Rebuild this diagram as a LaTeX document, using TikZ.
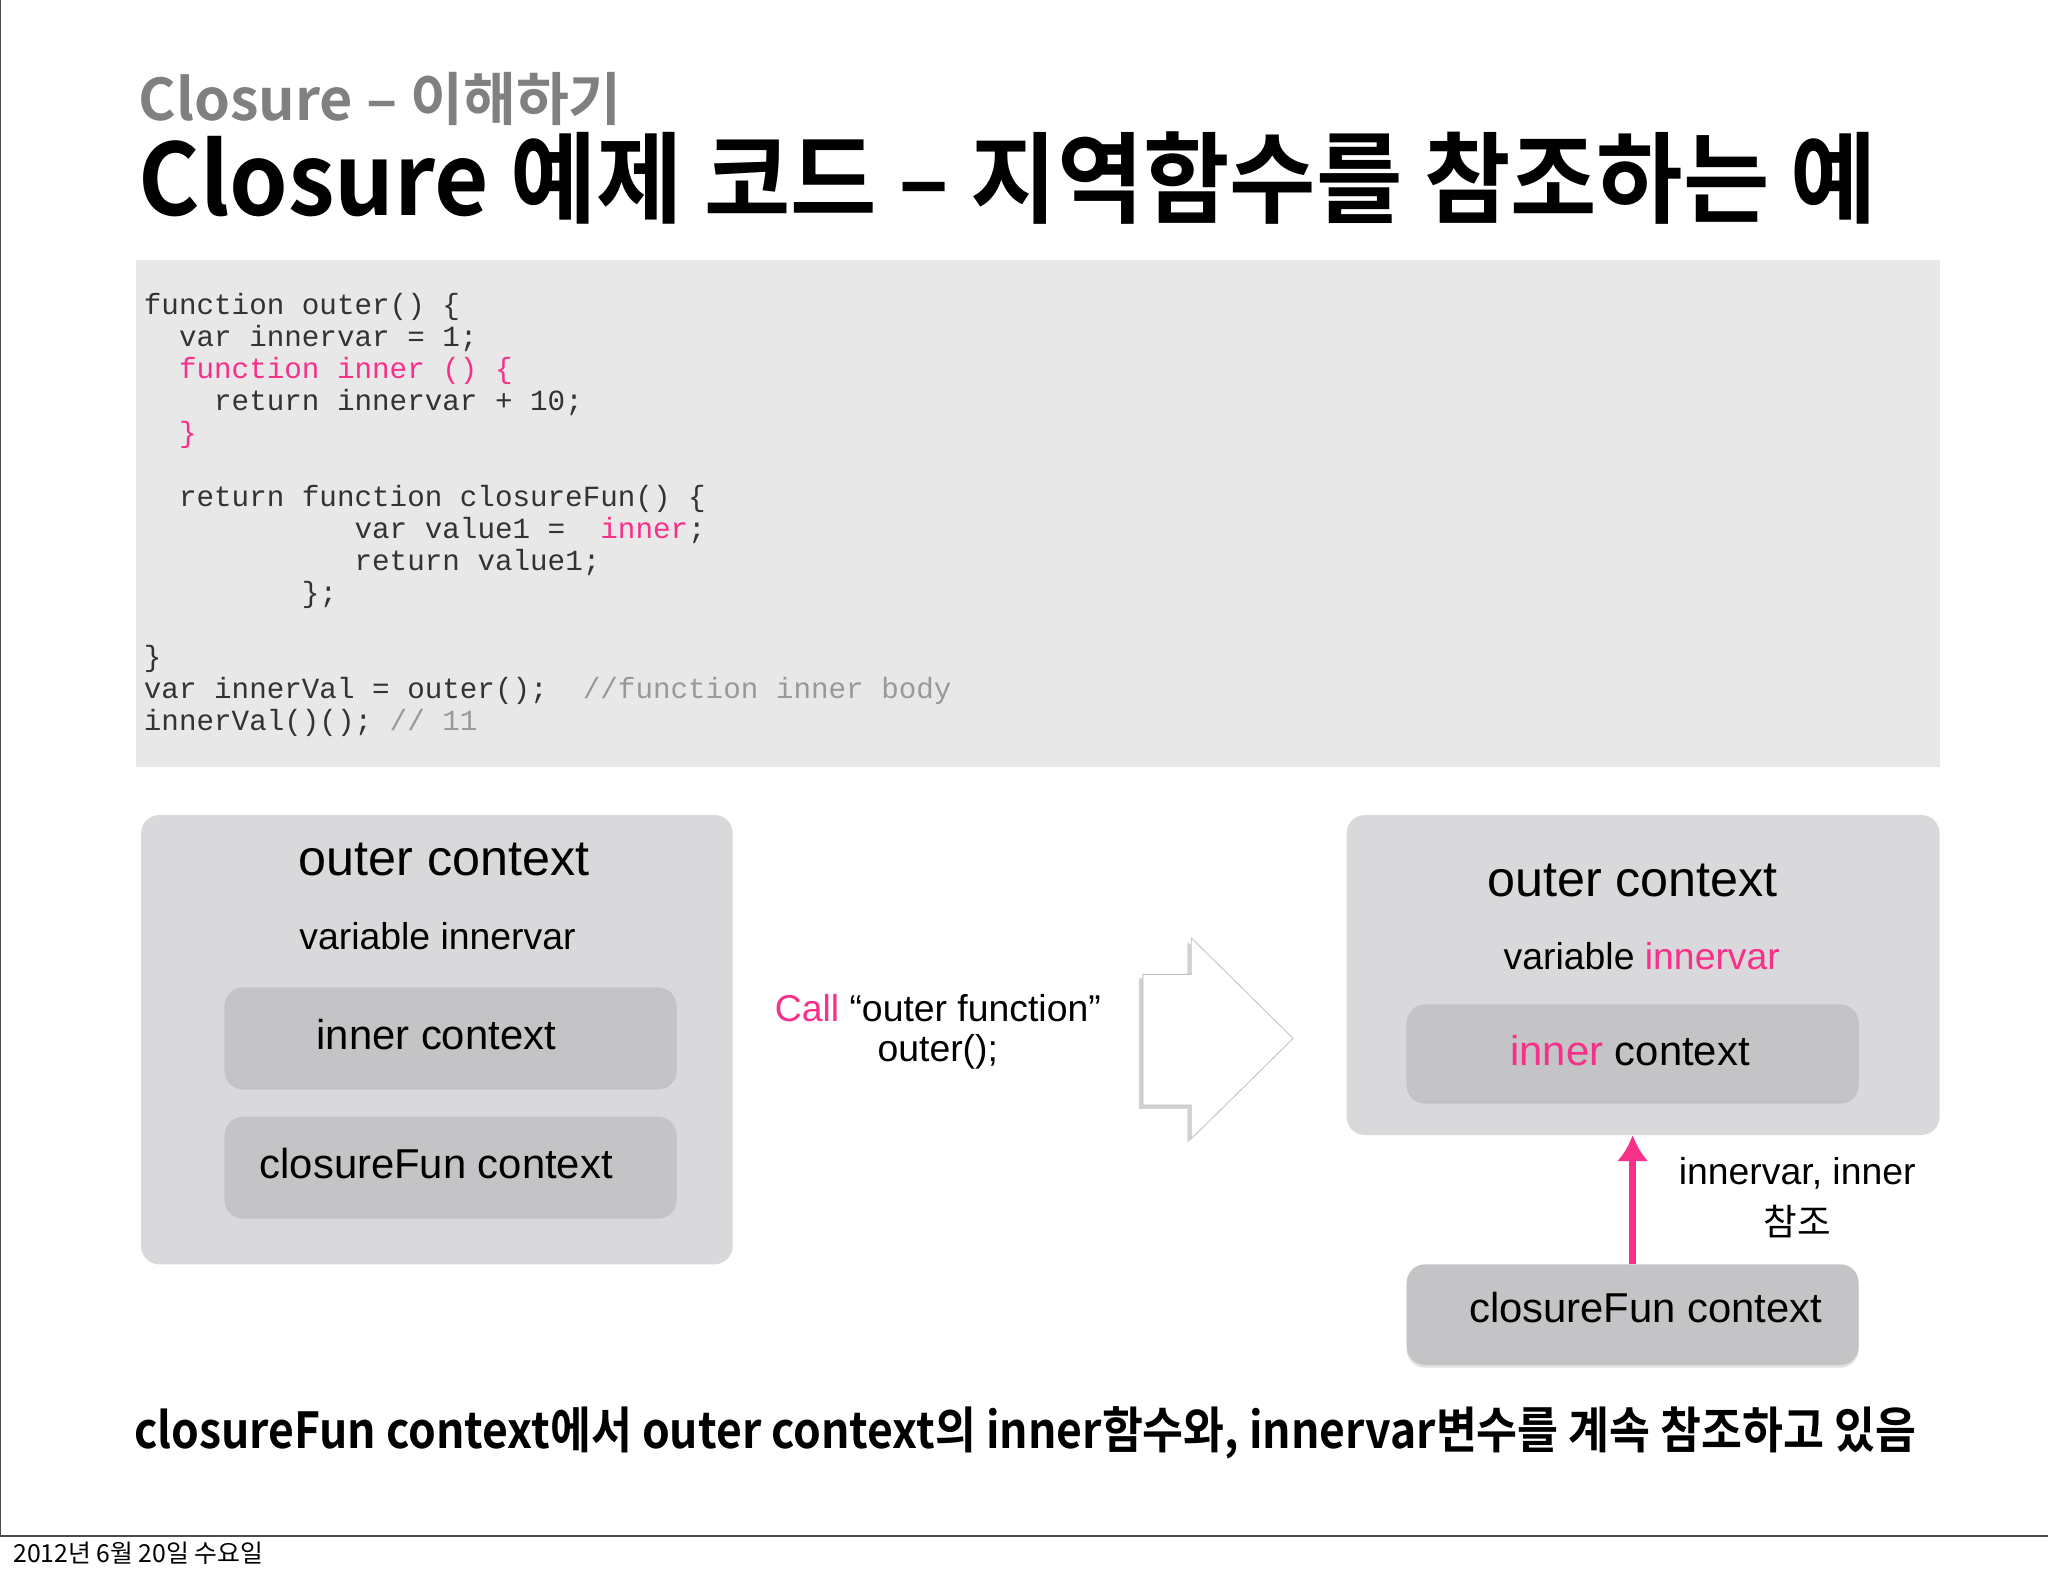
\documentclass[tikz,border=0pt]{standalone}
\usepackage{fontspec}
\setmainfont{Liberation Sans}
\newfontfamily\kr{Noto Sans CJK KR}
\newfontfamily\krb{Noto Sans CJK KR Bold}
\newfontfamily\mono{Liberation Mono}
\usetikzlibrary{shadows,arrows.meta}
\definecolor{pk}{HTML}{F7318A}
\definecolor{boxo}{HTML}{D9D9DC}
\definecolor{boxi}{HTML}{C4C4C7}
\definecolor{codebg}{HTML}{E8E8E9}
\tikzset{
 outerbox/.style={fill=boxo,rounded corners=14pt},
 innerbox/.style={fill=boxi,rounded corners=14pt,drop shadow={opacity=0.25,shadow xshift=0pt,shadow yshift=-2pt}},
 lbl/.style={font=\fontsize{38.5}{44}\selectfont,inner sep=0pt},
 lbl2/.style={font=\fontsize{32}{38}\selectfont,inner sep=0pt},
 sub/.style={font=\fontsize{28.6}{34}\selectfont,inner sep=0pt},
 codel/.style={anchor=base west,inner sep=0pt,font=\mono\fontsize{22.4}{25}\selectfont,text=black!80}
}
\begin{document}
\begin{tikzpicture}[x=1pt,y=-1pt]
\useasboundingbox (0,0) rectangle (1568,1207);
\fill[white] (0,0) rectangle (1568,1207);
\draw[black!70,line width=1pt] (0.5,0) -- (0.5,1176) -- (1568,1176);
\node[anchor=base west,inner sep=0pt,font=\fontsize{19}{22}\selectfont\kr] (date) at (10,1196) {2012년 6월 20일 수요일};
\node[anchor=base west,inner sep=0pt,text=black!50,font=\krb\fontsize{44}{50}\selectfont] (t1) at (106,92) {Closure – 이해하기};
\node[anchor=base west,inner sep=0pt,font=\krb\fontsize{76}{84}\selectfont,xscale=0.946,transform shape] (t2) at (106,165) {Closure 예제 코드 – 지역함수를 참조하는 예};
\fill[codebg] (104,199) rectangle (1485,587);
\node[codel] (c1) at (110,241) {function outer() \{};
\node[codel] (c2) at (110,265.5) {\ \ var innervar = 1;};
\node[codel,text=pk] (c3) at (110,290) {\ \ function inner () \{};
\node[codel] (c4) at (110,314.5) {\ \ \ \ return innervar + 10;};
\node[codel,text=pk] (c5) at (110,339) {\ \ \}};
\node[codel] (c6) at (110,388) {\ \ return function closureFun() \{};
\node[codel] (c7) at (110,412.5) {\ \ \ \ \ \ \ \ \ \ \ \ var value1 = \ \textcolor{pk}{inner};};
\node[codel] (c8) at (110,437) {\ \ \ \ \ \ \ \ \ \ \ \ return value1;};
\node[codel] (c9) at (110,461.5) {\ \ \ \ \ \ \ \ \ \};};
\node[codel] (c10) at (110,510.5) {\}};
\node[codel] (c11) at (110,535) {var innerVal = outer(); \ \textcolor{black!40}{//function inner body}};
\node[codel] (c12) at (110,559.5) {innerVal()(); \textcolor{black!40}{// 11}};
% left
\fill[outerbox] (108,624) rectangle (561,968);
\node[lbl] (lo) at (340,658) {outer context};
\node[sub] (lv) at (335,717) {variable innervar};
\path[innerbox] (172,756) rectangle (518,832);
\node[lbl2] (li) at (334,792) {inner context};
\path[innerbox] (172,855) rectangle (518,931);
\node[lbl2] (lc) at (334,891) {closureFun context};
% middle
\node[sub] (call) at (718,772) {\textcolor{pk}{Call} “outer function”};
\node[sub] (oc) at (718,805) {outer();};
\path[fill=white,draw=black!25,line width=0.6pt,drop shadow={opacity=0.35,shadow xshift=-3pt,shadow yshift=-3pt}]
 (875,746) -- (912,746) -- (912,718) -- (990,795) -- (912,872) -- (912,846) -- (875,846) -- cycle;
% right
\fill[outerbox] (1031,624) rectangle (1485,869);
\node[lbl] (ro) at (1250,674) {outer context};
\node[sub] (rv) at (1257,732) {variable \textcolor{pk}{innervar}};
\path[innerbox] (1077,769) rectangle (1423,843);
\node[lbl2] (ri) at (1248,804) {\textcolor{pk}{inner} context};
\path[innerbox] (1077,968) rectangle (1423,1045);
\node[lbl2] (rc) at (1260,1001) {closureFun context};
\coordinate (ab) at (1250,968);
\coordinate (at) at (1250,869);
\draw[pk,line width=5pt,-{Latex[length=20pt,width=24pt]}] (ab) -- (at);
\node[sub] (ref1) at (1376,898) {innervar, inner};
\node[sub,font=\kr\fontsize{28}{33}\selectfont] (ref2) at (1376,935) {참조};
% bottom
\node[inner sep=0pt,font=\krb\fontsize{38}{44}\selectfont,xscale=0.896,transform shape] (bot) at (785,1097) {closureFun context에서 outer context의 inner함수와, innervar변수를 계속 참조하고 있음};
\end{tikzpicture}
\end{document}
